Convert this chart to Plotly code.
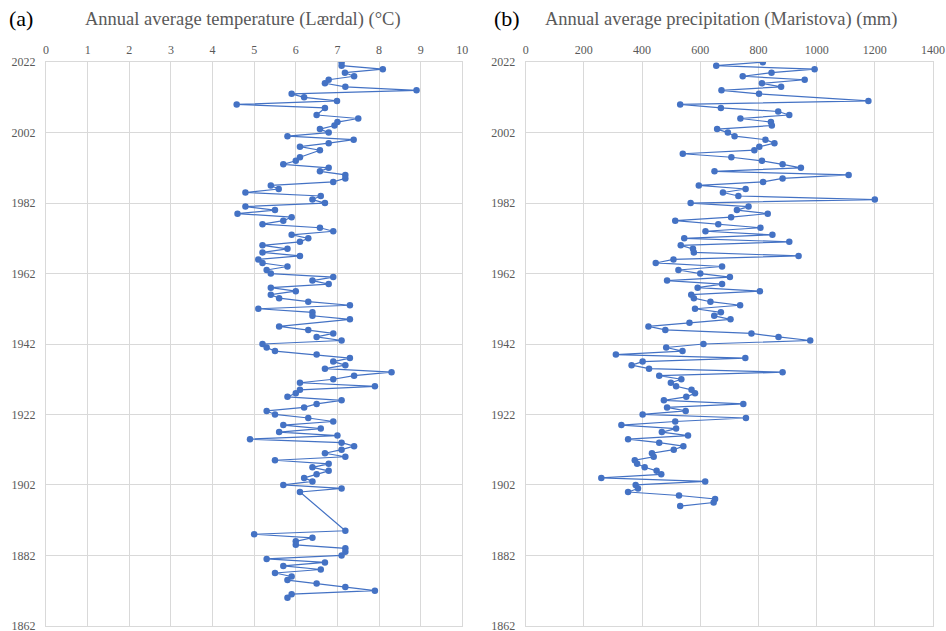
import plotly.graph_objects as go

# ---------------- data ----------------
temp_years = [2022, 2021, 2020, 2019, 2018, 2017, 2016, 2015, 2014, 2013, 2012, 2011, 2010, 2009,
              2007, 2006, 2005, 2004, 2003, 2002, 2001, 2000, 1999, 1998, 1997, 1995, 1994, 1993,
              1992, 1991, 1990, 1989, 1988, 1987, 1986, 1985, 1984, 1983, 1982, 1981, 1980, 1979,
              1978, 1977, 1976, 1975, 1974, 1973, 1972, 1971, 1970, 1969, 1968, 1967, 1966, 1965,
              1964, 1963, 1962, 1961, 1960, 1959, 1958, 1957, 1956, 1955, 1954, 1953, 1952, 1951,
              1950, 1949, 1947, 1946, 1945, 1944, 1943, 1942, 1941, 1940, 1939, 1938, 1937, 1936,
              1935, 1934, 1933, 1932, 1931, 1930, 1929, 1928, 1927, 1926, 1925, 1924, 1923, 1922,
              1921, 1920, 1919, 1918, 1917, 1916, 1915, 1914, 1913, 1912, 1911, 1910, 1909, 1908,
              1907, 1906, 1905, 1904, 1903, 1902, 1901, 1900, 1889, 1888, 1887, 1886, 1885, 1884,
              1883, 1882, 1881, 1880, 1879, 1878, 1877, 1876, 1875, 1874, 1873, 1872, 1871, 1870]
temp_values = [7.10, 7.10, 8.09, 7.18, 7.40, 6.79, 6.70, 7.19, 8.90, 5.90, 6.20, 6.99, 4.58, 6.70,
               6.50, 7.50, 7.00, 6.93, 6.58, 6.79, 5.80, 7.39, 6.79, 6.10, 6.58, 6.10, 6.00, 5.70,
               6.79, 6.58, 7.19, 7.19, 6.90, 5.40, 5.59, 4.79, 6.60, 6.40, 6.70, 4.79, 5.50, 4.60,
               5.90, 5.70, 5.20, 6.58, 6.90, 5.90, 6.30, 6.10, 5.20, 5.80, 5.20, 6.10, 5.10, 5.20,
               5.80, 5.30, 5.40, 6.90, 6.40, 6.79, 5.40, 6.00, 5.40, 5.60, 6.30, 7.30, 5.10, 6.40,
               6.40, 7.30, 5.60, 6.30, 6.90, 6.50, 7.10, 5.20, 5.30, 5.50, 6.50, 7.30, 6.90, 7.19,
               6.70, 8.30, 7.40, 6.90, 6.10, 7.90, 6.10, 6.00, 5.80, 7.10, 6.50, 6.20, 5.30, 5.50,
               6.30, 6.90, 5.70, 6.60, 5.60, 7.00, 4.90, 7.10, 7.40, 7.10, 6.70, 7.19, 5.50, 6.79,
               6.40, 6.79, 6.50, 6.20, 6.40, 5.70, 7.10, 6.10, 7.19, 5.00, 6.40, 6.00, 6.00, 7.19,
               7.19, 7.10, 5.30, 6.70, 5.70, 6.60, 5.50, 5.90, 5.80, 6.50, 7.19, 7.90, 5.90, 5.80]

prec_years = [2022, 2021, 2020, 2019, 2018, 2017, 2016, 2015, 2014, 2013, 2011, 2010, 2009, 2008,
              2007, 2006, 2005, 2004, 2003, 2002, 2001, 2000, 1999, 1998, 1997, 1996, 1995, 1994,
              1993, 1992, 1991, 1990, 1989, 1988, 1987, 1986, 1985, 1984, 1983, 1982, 1981, 1980,
              1979, 1978, 1977, 1976, 1975, 1974, 1973, 1972, 1971, 1970, 1969, 1968, 1967, 1966,
              1965, 1964, 1963, 1962, 1961, 1960, 1959, 1958, 1957, 1956, 1955, 1954, 1953, 1952,
              1951, 1950, 1949, 1948, 1947, 1946, 1945, 1944, 1943, 1942, 1941, 1940, 1939, 1938,
              1937, 1936, 1935, 1934, 1933, 1932, 1931, 1930, 1929, 1928, 1927, 1926, 1925, 1924,
              1923, 1922, 1921, 1920, 1919, 1918, 1917, 1916, 1915, 1914, 1913, 1912, 1911, 1910,
              1909, 1908, 1907, 1906, 1905, 1904, 1903, 1902, 1901, 1900, 1899, 1898, 1897, 1896]
prec_values = [815, 655, 993, 845, 746, 959, 812, 878, 673, 802, 1178, 531, 671, 868,
               906, 738, 843, 846, 658, 695, 718, 824, 855, 803, 786, 540, 707, 812,
               883, 946, 649, 1110, 883, 816, 595, 756, 678, 731, 1200, 567, 766, 726,
               832, 706, 514, 662, 807, 618, 848, 545, 906, 533, 575, 578, 938, 508,
               447, 675, 525, 600, 702, 486, 675, 591, 805, 569, 578, 635, 737, 582,
               671, 648, 704, 563, 422, 480, 776, 869, 978, 611, 483, 539, 310, 755,
               402, 364, 424, 883, 459, 535, 499, 517, 570, 582, 552, 475, 748, 486,
               550, 402, 757, 514, 329, 517, 468, 558, 352, 459, 542, 509, 434, 440,
               375, 383, 409, 450, 466, 260, 617, 378, 386, 352, 527, 651, 646, 531]

year_ticks = [1862, 1882, 1902, 1922, 1942, 1962, 1982, 2002, 2022]
temp_ticks = list(range(0, 11))
prec_ticks = list(range(0, 1401, 200))

title_a = "Annual average temperature (Lærdal) (°C)"
title_b = "Annual average precipitation (Maristova) (mm)"

# ---------------- figure ----------------
BLUE = "#4472C4"
GRID = "#d9d9d9"
TXT = "#595959"
SERIF = "Liberation Serif, Times New Roman, serif"

W, H = 946, 631
L, R, T, B = 45.7, 12.7, 61.7, 4.7
pw = W - L - R
ph = H - T - B

def px(x):
    return (x - L) / pw

def py(y):
    return (H - B - y) / ph

fig = go.Figure()
fig.add_trace(go.Scatter(x=temp_values, y=temp_years, mode="lines+markers",
                         line=dict(color=BLUE, width=1.2),
                         marker=dict(color=BLUE, size=6.5),
                         xaxis="x", yaxis="y", showlegend=False))
fig.add_trace(go.Scatter(x=prec_values, y=prec_years, mode="lines+markers",
                         line=dict(color=BLUE, width=1.2),
                         marker=dict(color=BLUE, size=6.5),
                         xaxis="x2", yaxis="y2", showlegend=False))

xcommon = dict(side="top", showgrid=True, gridcolor=GRID, gridwidth=1,
               showline=True, linecolor=GRID, linewidth=1, mirror=True, automargin=False,
               zeroline=False, ticks="", ticklabelstandoff=2, ticklabeloverflow="allow",
               tickfont=dict(family=SERIF, size=12, color=TXT))
ycommon = dict(range=[1861.96, 2022.04], tickvals=year_ticks, showgrid=True, gridcolor=GRID, gridwidth=1,
               showline=True, linecolor=GRID, linewidth=1, mirror=True, automargin=False,
               zeroline=False, ticks="", ticklabelstandoff=7, ticklabeloverflow="allow",
               tickfont=dict(family=SERIF, size=12, color=TXT))

fig.update_layout(
    width=W, height=H,
    margin=dict(l=L, r=R, t=T, b=B, autoexpand=False),
    paper_bgcolor="white", plot_bgcolor="white",
    xaxis=dict(domain=[0, px(462.3)], range=[0, 10], tickvals=temp_ticks, anchor="y", **xcommon),
    yaxis=dict(domain=[0, 1], anchor="x", **ycommon),
    xaxis2=dict(domain=[px(525.7), 1], range=[0, 1400], tickvals=prec_ticks, anchor="y2", **xcommon),
    yaxis2=dict(domain=[0, 1], anchor="x2", **ycommon),
    annotations=[
        dict(text="(a)", x=px(21), y=py(18), xref="paper", yref="paper", showarrow=False,
             xanchor="center", yanchor="middle", font=dict(family=SERIF, size=22, color="#000000")),
        dict(text=title_a, x=px(243), y=py(19), xref="paper", yref="paper", showarrow=False,
             xanchor="center", yanchor="middle", font=dict(family=SERIF, size=18.5, color=TXT)),
        dict(text="(b)", x=px(507), y=py(18), xref="paper", yref="paper", showarrow=False,
             xanchor="center", yanchor="middle", font=dict(family=SERIF, size=22, color="#000000")),
        dict(text=title_b, x=px(721), y=py(19), xref="paper", yref="paper", showarrow=False,
             xanchor="center", yanchor="middle", font=dict(family=SERIF, size=18.5, color=TXT)),
    ],
)

fig.write_html("out.html")
